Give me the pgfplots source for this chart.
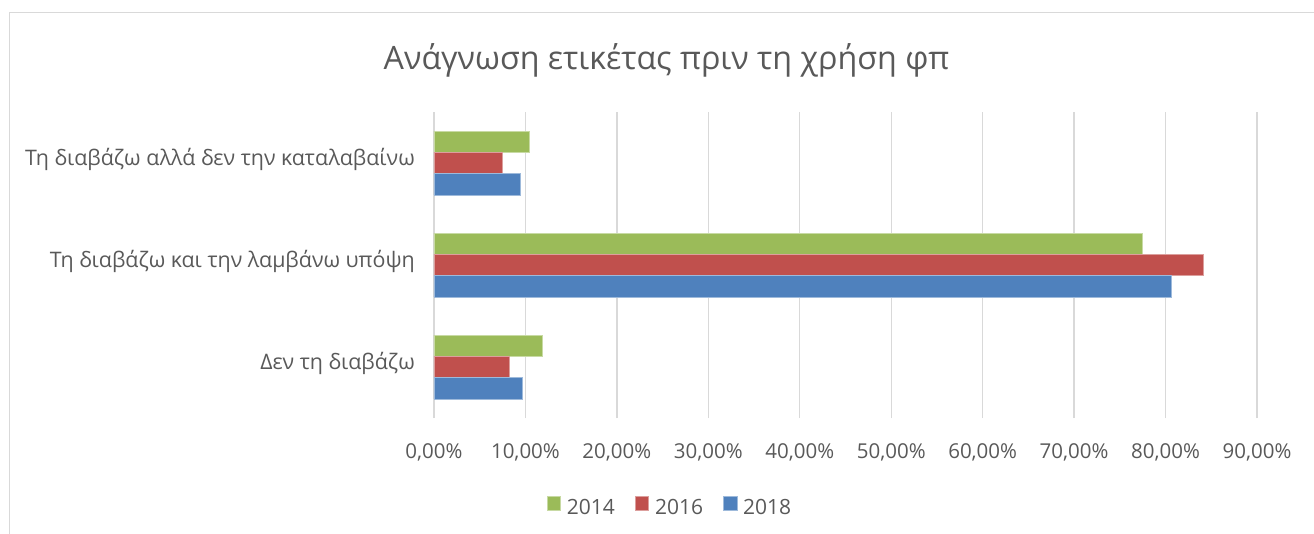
\documentclass[border=0pt]{standalone}
\usepackage{fontspec}
\setmainfont{Open Sans}
\usepackage{pgfplots}
\pgfplotsset{compat=1.18}
\usetikzlibrary{calc}
\definecolor{g14}{RGB}{155,187,89}
\definecolor{r16}{RGB}{192,80,77}
\definecolor{b18}{RGB}{79,129,189}
\definecolor{txtgray}{RGB}{89,89,89}
\definecolor{gridgray}{RGB}{217,217,217}
\begin{document}
\begin{tikzpicture}[x=1pt,y=1pt]
\begin{axis}[
  scale only axis, width=823pt, height=306pt,
  xbar, bar width=21.3pt,
  xmin=0, xmax=90, ymin=-0.5, ymax=2.5,
  xtick={0,10,...,90},
  xticklabels={{0,00\%},{10,00\%},{20,00\%},{30,00\%},{40,00\%},{50,00\%},{60,00\%},{70,00\%},{80,00\%},{90,00\%}},
  ytick={0,1,2},
  yticklabels={Δεν τη διαβάζω,Τη διαβάζω και την λαμβάνω υπόψη,Τη διαβάζω αλλά δεν την καταλαβαίνω},
  axis line style={draw=none},
  xmajorgrids, grid style={gridgray, line width=1.3pt},
  major tick length=0pt,
  tick label style={txtgray, inner sep=0pt},
  xticklabel style={font=\fontsize{20.5}{24}\selectfont, anchor=base, yshift=-40.3pt},
  yticklabel style={font=\fontsize{21.4}{25}\selectfont, anchor=base east, xshift=-19pt, yshift=-2pt},
  legend columns=3,
  legend style={draw=none, fill=none, at={(0.2868,-0.292)}, anchor=center,
    font=\fontsize{21}{24}\selectfont, text=txtgray,
    /tikz/every odd column/.append style={column sep=4pt},
    /tikz/every even column/.append style={column sep=18pt}},
  legend image code/.code={\fill[#1] (0pt,-2pt) rectangle (13.4pt,11.4pt);},
]
\addplot[fill=g14, draw=g14!55!white, line width=0.7pt, bar shift=21.3pt]
  coordinates {(11.9,0) (77.5,1) (10.4,2)};
\addlegendentry{2014}
\addplot[fill=r16, draw=r16!55!white, line width=0.7pt, bar shift=0pt]
  coordinates {(8.2,0) (84.1,1) (7.5,2)};
\addlegendentry{2016}
\addplot[fill=b18, draw=b18!55!white, line width=0.7pt, bar shift=-21.3pt]
  coordinates {(9.7,0) (80.65,1) (9.4,2)};
\addlegendentry{2018}
\coordinate (O) at (rel axis cs:0,0);
\end{axis}
% page = 1314 x 533, axis corner sits at (434,115) of it
\pgfresetboundingbox
\path[use as bounding box] ($(O)+(-434,-115)$) rectangle ($(O)+(880,418)$);
\draw[gridgray, line width=1.5pt] ($(O)+(890,405.5)$) -- ($(O)+(-424.5,405.5)$) -- ($(O)+(-424.5,-125)$);
\node[txtgray, font=\fontsize{32.2}{38}\selectfont] at ($(O)+(232.5,358)$) {Ανάγνωση ετικέτας πριν τη χρήση φπ};
\end{tikzpicture}
\end{document}
